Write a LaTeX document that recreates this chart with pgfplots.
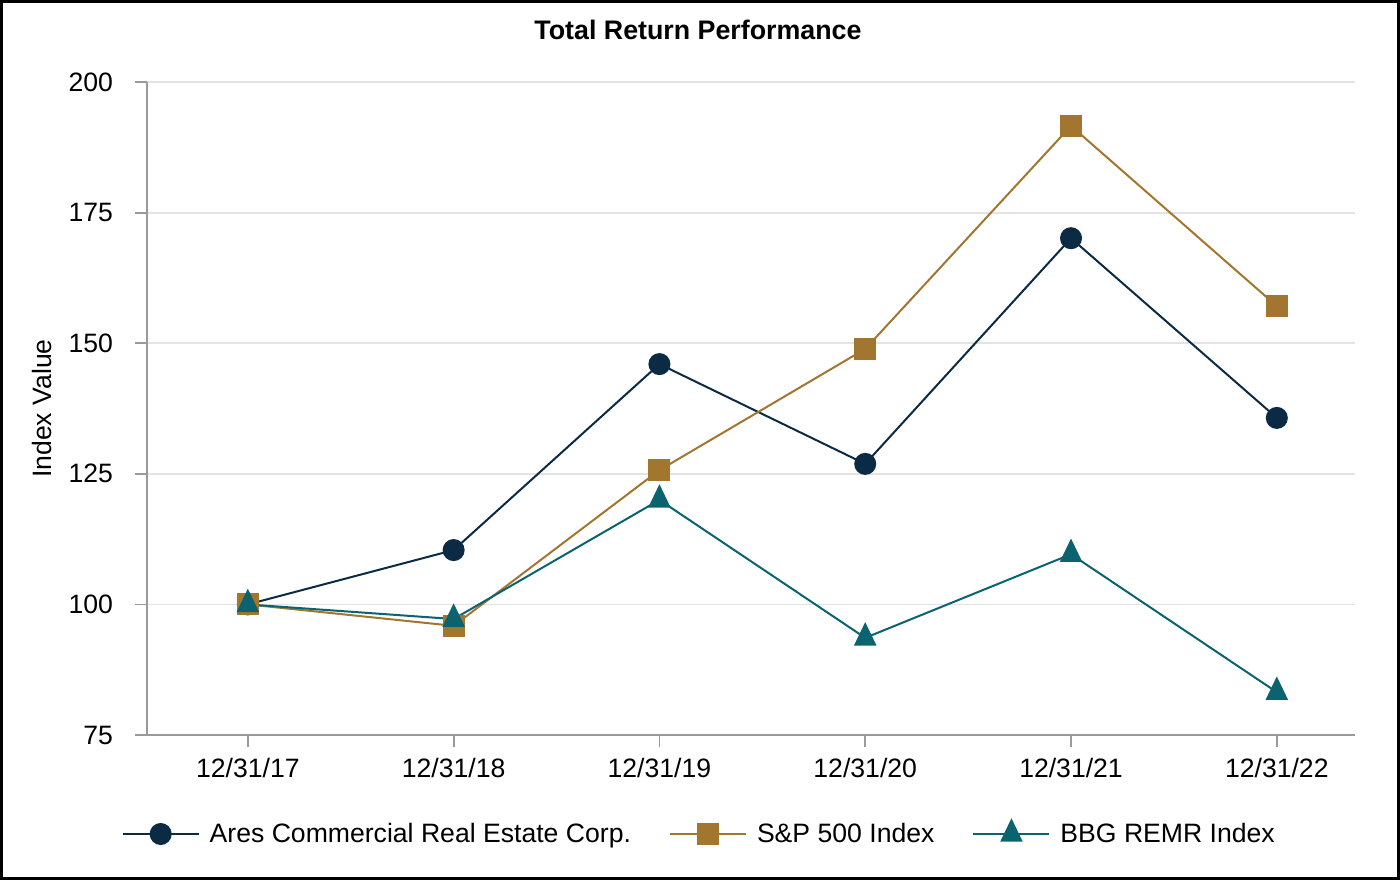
\documentclass[border=0pt]{standalone}
\usepackage{pgfplots}
\pgfplotsset{compat=1.18}
\usepackage{fontspec}
\setmainfont{Liberation Sans}
\definecolor{ares}{HTML}{0B2B45}
\definecolor{spx}{HTML}{A37630}
\definecolor{bbg}{HTML}{0B6370}
\definecolor{gridc}{HTML}{E3E3E3}
\definecolor{axc}{HTML}{9A9A9A}
\begin{document}
\begin{tikzpicture}
\useasboundingbox (0,0) rectangle (700pt,440pt);
\draw[line width=1.5pt] (0.75pt,0.75pt) rectangle (699.25pt,439.25pt);
\node[font=\fontsize{13.4}{16}\selectfont\bfseries] at (349pt,425pt) {Total Return Performance};
\begin{axis}[
  at={(73.5pt,72.5pt)}, anchor=south west, scale only axis,
  width=604pt, height=326.5pt,
  xmin=-0.49, xmax=5.38, ymin=75, ymax=200,
  xtick={0,1,2,3,4,5},
  xticklabels={12/31/17,12/31/18,12/31/19,12/31/20,12/31/21,12/31/22},
  ytick={75,100,125,150,175,200},
  axis lines*=left,
  axis line style={axc, line width=0.9pt},
  tick style={axc, line width=0.9pt},
  tick align=outside, major tick length=6pt,
  ymajorgrids, grid style={gridc, line width=0.9pt},
  ticklabel style={font=\fontsize{13.3}{15}\selectfont},
  /pgf/number format/assume math mode=true,
  yticklabel style={xshift=-7.5pt},
  xticklabel style={yshift=-2pt},
  ylabel={Index Value},
  ylabel style={font=\fontsize{13.3}{15}\selectfont, at={(axis description cs:-0.0869,0.5)}, anchor=center},
  legend columns=3,
  legend style={draw=none, at={(0.458,-0.1516)}, anchor=center,
    font=\fontsize{13.3}{15}\selectfont,
    /tikz/every odd column/.append style={column sep=3pt},
    /tikz/every even column/.append style={column sep=17pt}},
  legend image code/.code={\draw[mark repeat=2,mark phase=2] plot coordinates {(0pt,0pt)(19pt,0pt)(38pt,0pt)};},
]
\addplot[ares, line width=1pt, mark=*, mark size=5pt] coordinates {
(0,100) (1,110.4) (2,146.0) (3,126.9) (4,170.1) (5,135.7)};
\addlegendentry{Ares Commercial Real Estate Corp.}
\addplot[spx, line width=1pt, mark=square*, mark size=5pt] coordinates {
(0,100) (1,95.9) (2,125.7) (3,148.9) (4,191.6) (5,157.1)};
\addlegendentry{S\&P 500 Index}
\addplot[bbg, line width=1pt, mark=triangle*, mark size=5.6pt, mark options={yscale=1.2}] coordinates {
(0,100) (1,97.2) (2,120.0) (3,93.6) (4,109.6) (5,83.2)};
\addlegendentry{BBG REMR Index}
\end{axis}
\end{tikzpicture}
\end{document}
